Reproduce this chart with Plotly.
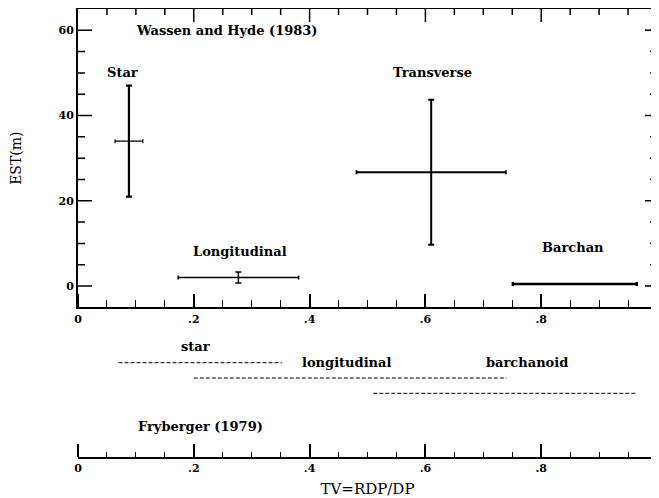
import plotly.graph_objects as go

# Wassen and Hyde (1983): dune types, TV (x) and EST (y) with error ranges
dune_types = ["Star", "Longitudinal", "Transverse", "Barchan"]
tv_center = [0.088, 0.277, 0.610, 0.858]
tv_err = [0.024, 0.104, 0.129, 0.107]
est_center = [34.0, 2.0, 26.7, 0.5]
est_err = [13.0, 1.3, 17.0, 0.0]

# Fryberger (1979): TV ranges for dune types
fry_types = ["star", "longitudinal", "barchanoid"]
fry_start = [0.07, 0.20, 0.51]
fry_end = [0.352, 0.74, 0.966]
fry_row = [2, 1, 0]

x_tickvals = [0, 0.2, 0.4, 0.6, 0.8, 1.0]
x_ticktext = ["0", ".2", ".4", ".6", ".8", "1"]
y_tickvals = [0, 20, 40, 60]

X_RANGE = [0, 1]
Y_RANGE = [-5, 65]

FONT = "DejaVu Serif"
fig = go.Figure()

xthick = [1.2, 1.5, 1.8, 2.5]
ythick = [2.2, 1.5, 2.0, 2.0]
for i, name in enumerate(dune_types):
    fig.add_trace(go.Scatter(
        x=[tv_center[i]], y=[est_center[i]], mode="markers",
        marker=dict(size=1, color="black"),
        error_x=dict(type="data", array=[tv_err[i]], color="black",
                     thickness=xthick[i], width=2),
        error_y=dict(type="data", array=[est_err[i]], color="black",
                     thickness=ythick[i], width=3, visible=est_err[i] > 0),
        showlegend=False, xaxis="x", yaxis="y", name=name))

for i, name in enumerate(fry_types):
    fig.add_trace(go.Scatter(
        x=[fry_start[i], fry_end[i]], y=[fry_row[i], fry_row[i]], mode="lines",
        line=dict(color="black", width=1, dash="4px,2px"),
        showlegend=False, xaxis="x2", yaxis="y2", name=name))

# empty traces so the tick-only overlay axes are drawn
for xa, ya in [("x3", "y"), ("x5", "y2")]:
    fig.add_trace(go.Scatter(x=[], y=[], xaxis=xa, yaxis=ya, showlegend=False, hoverinfo="skip"))

# inward tick marks on the top, left and right frame of the main panel
MAIN_BOTTOM = 0.334
PX_PER_X = 579.0
PX_PER_Y = 448 * (1 - MAIN_BOTTOM) / (Y_RANGE[1] - Y_RANGE[0])
tx, ty = [], []
for k in range(1, 20):
    v = k * 0.05
    L = (13 if k % 4 == 0 else 6) / PX_PER_Y
    tx += [v, v, None]
    ty += [Y_RANGE[1], Y_RANGE[1] - L, None]
for v in range(0, 65, 5):
    major = v % 20 == 0
    Ll = (14 if major else 7) / PX_PER_X
    Lr = (12 if major else 7) / PX_PER_X
    tx += [X_RANGE[0], X_RANGE[0] + Ll, None, X_RANGE[1], X_RANGE[1] - Lr, None]
    ty += [v, v, None, v, v, None]
fig.add_trace(go.Scatter(x=tx, y=ty, mode="lines", line=dict(color="black", width=1.5),
                         showlegend=False, hoverinfo="skip", cliponaxis=False,
                         xaxis="x", yaxis="y"))

tickfont = dict(family=FONT, size=11, color="black")

bold = dict(family=FONT, size=13, color="black")
ann = []
ann.append(dict(x=0.256, y=60, xref="x", yref="y", text="<b>Wassen and Hyde (1983)</b>",
                showarrow=False, font=bold))
label_pos = {"Star": (0.077, 50), "Longitudinal": (0.280, 8),
             "Transverse": (0.612, 50), "Barchan": (0.855, 9)}
for name in dune_types:
    lx, ly = label_pos[name]
    ann.append(dict(x=lx, y=ly, xref="x", yref="y", text=f"<b>{name}</b>",
                    showarrow=False, font=bold))
# Fryberger labels
ann.append(dict(x=0.203, y=3.05, xref="x2", yref="y2", text="<b>star</b>", showarrow=False, font=bold))
ann.append(dict(x=0.464, y=2.0, xref="x2", yref="y2", text="<b>longitudinal</b>", showarrow=False, font=bold))
ann.append(dict(x=0.775, y=2.0, xref="x2", yref="y2", text="<b>barchanoid</b>", showarrow=False, font=bold))
ann.append(dict(x=0.212, y=-2.18, xref="x2", yref="y2", text="<b>Fryberger (1979)</b>", showarrow=False, font=bold))


def tick_axis(side, position, overlay, major, minor_len, minor_dtick, rng):
    return dict(overlaying=overlay, side=side, anchor="free", position=position,
                range=rng, tickmode="array", tickvals=x_tickvals,
                showticklabels=False, ticks="outside", ticklen=major, tickwidth=1.6,
                tickcolor="black", showline=False, showgrid=False, zeroline=False,
                minor=dict(dtick=minor_dtick, tick0=0, ticks="outside", ticklen=minor_len,
                           tickwidth=1.4, tickcolor="black", showgrid=False))


fig.update_layout(
    template="none",
    width=651, height=490,
    margin=dict(l=70, r=2, t=1, b=41, autoexpand=False),
    paper_bgcolor="white", plot_bgcolor="white",
    xaxis=dict(domain=[0, 1], anchor="y", range=X_RANGE, tickmode="array", tickvals=x_tickvals,
               ticktext=[f"<b>{t}</b>" for t in x_ticktext], tickfont=tickfont, ticks="",
               showline=True, linecolor="black", linewidth=2, mirror=True,
               showgrid=False, zeroline=False, ticklabeloverflow="allow"),
    yaxis=dict(domain=[MAIN_BOTTOM, 1], anchor="x", range=Y_RANGE, tickmode="array",
               tickvals=y_tickvals, ticktext=[f"<b>{t}</b>" for t in y_tickvals],
               tickfont=tickfont, ticks="",
               showline=True, linecolor="black", linewidth=2, mirror=True,
               showgrid=False, zeroline=False,
               title=dict(text="EST(m)", font=dict(family=FONT, size=14, color="black"), standoff=44)),
    xaxis2=dict(domain=[0, 1], anchor="y2", range=X_RANGE, tickmode="array", tickvals=x_tickvals,
                ticktext=[f"<b>{t}</b>" for t in x_ticktext], tickfont=tickfont, ticks="",
                showline=True, linecolor="black", linewidth=2,
                showgrid=False, zeroline=False, ticklabeloverflow="allow",
                title=dict(text="TV=RDP/DP", font=dict(family=FONT, size=15, color="black"), standoff=10)),
    yaxis2=dict(domain=[0, 0.3], anchor="x2", range=[-4.16, 4.62], visible=False),
    xaxis3=tick_axis("top", MAIN_BOTTOM, "x", 13, 7, 0.05, X_RANGE),
    xaxis5=tick_axis("top", 0.0, "x2", 13, 5, 0.05, X_RANGE),
    annotations=ann,
)

fig.write_html("out.html")
